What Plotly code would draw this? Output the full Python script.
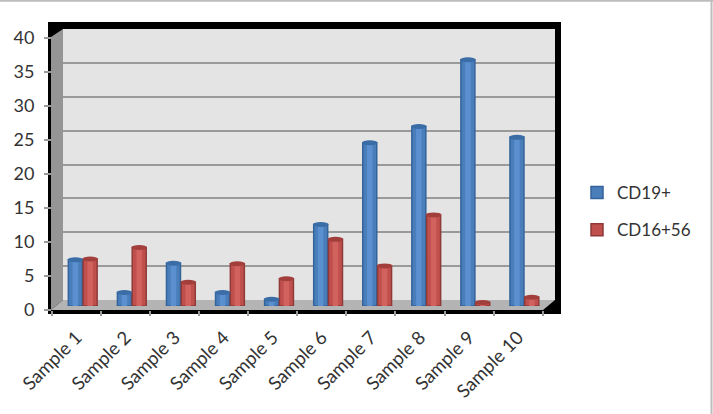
import plotly.graph_objects as go

W, H = 713, 414
samples = ["Sample 1", "Sample 2", "Sample 3", "Sample 4", "Sample 5",
           "Sample 6", "Sample 7", "Sample 8", "Sample 9", "Sample 10"]
cd19 = [6.8, 2.0, 6.3, 2.0, 1.0, 12.0, 24.0, 26.4, 36.2, 24.8]
cd16 = [6.9, 8.6, 3.5, 6.2, 4.0, 9.8, 5.9, 13.4, 0.5, 1.3]

BAND = 49.07
FONT = "Lato, Carlito, sans-serif"
TXT = "#333333"

series = [
    dict(name="CD19+", y=cd19, c=-1.2, edge="#33639b", mid="#4a7ebb", light="#5a90cf", cap="#3a6ca6"),
    dict(name="CD16+56", y=cd16, c=13.6, edge="#8f3a38", mid="#c0504d", light="#d2625e", cap="#a23f3c"),
]
BAR_W = 15.5

def px(v):
    return v / W

def py(v):
    return 1 - v / H

def poly(points, color):
    d = "M" + " L".join(f"{px(x):.5f},{py(y):.5f}" for x, y in points) + " Z"
    return dict(type="path", path=d, xref="paper", yref="paper", fillcolor=color,
                line=dict(width=0), layer="below")

shapes = [
    poly([(48, 22), (561, 22), (561, 314), (48, 314)], "#000000"),
    poly([(63, 29), (555, 29), (555, 300), (63, 300)], "#e4e4e4"),
    poly([(51, 37), (63, 29), (63, 300), (51, 310)], "#959595"),
    poly([(51, 310), (63, 300), (555, 300), (543, 310)], "#b4b4b4"),
    dict(type="line", xref="paper", yref="paper", x0=0, x1=1, y0=py(0.7), y1=py(0.7),
         line=dict(color="#bdbdbd", width=2), layer="below"),
    dict(type="line", xref="paper", yref="paper", x0=px(711.5), x1=px(711.5), y0=0, y1=1,
         line=dict(color="#bdbdbd", width=2), layer="below"),
]

fig = go.Figure()
fig.add_trace(go.Scatter(x=[0], y=[0], xaxis="x", yaxis="y", mode="markers",
                         marker=dict(opacity=0), hoverinfo="skip", showlegend=False))
fig.add_trace(go.Scatter(x=samples, y=[0] * len(samples), xaxis="x2", yaxis="y2", mode="markers",
                         marker=dict(opacity=0), hoverinfo="skip", showlegend=False))

for k, s in enumerate(series):
    half = BAR_W / 2
    fig.add_trace(go.Bar(
        x=samples, y=s["y"], xaxis="x2", yaxis="y3", name=s["name"],
        width=(BAR_W - 1.5) / BAND, offset=(s["c"] - (BAR_W - 1.5) / 2) / BAND,
        marker=dict(color=s["mid"], line=dict(width=1.5, color=s["edge"])),
        showlegend=True, legendgroup=s["name"], hoverinfo="name+y"))
    fig.add_trace(go.Bar(
        x=samples, y=s["y"], xaxis="x2", yaxis="y3", name=s["name"],
        width=5.5 / BAND, offset=(s["c"] - 2.75) / BAND,
        marker=dict(color=s["light"], line=dict(width=0)),
        showlegend=False, legendgroup=s["name"], hoverinfo="name+y"))
    for cat, v in zip(samples, s["y"]):
        shapes.append(dict(type="circle", xref="x2", yref="y3", xsizemode="pixel", ysizemode="pixel",
                           xanchor=cat, yanchor=0, x0=s["c"] - half, x1=s["c"] + half, y0=-2.5, y1=2.5,
                           fillcolor=s["edge"], line=dict(width=0), layer="between"))
        shapes.append(dict(type="circle", xref="x2", yref="y3", xsizemode="pixel", ysizemode="pixel",
                           xanchor=cat, yanchor=v, x0=s["c"] - half, x1=s["c"] + half, y0=-2.5, y1=2.5,
                           fillcolor=s["cap"], line=dict(width=0), layer="above"))

tf = dict(family=FONT, size=18, color=TXT)
xf = dict(family=FONT, size=18.5, color=TXT)
lf = dict(family=FONT, size=17, color=TXT)
fig.update_layout(
    template="none",
    width=W, height=H,
    margin=dict(l=0, r=0, t=0, b=0),
    paper_bgcolor="white", plot_bgcolor="rgba(0,0,0,0)",
    barmode="overlay",
    showlegend=True,
    shapes=shapes,
    legend=dict(x=px(577), y=py(175), xanchor="left", yanchor="top", font=lf,
                tracegroupgap=12, bgcolor="rgba(0,0,0,0)", itemwidth=30),
    xaxis=dict(domain=[px(63), px(555)], range=[0, 1], visible=False, fixedrange=True, automargin=False),
    yaxis=dict(domain=[py(300), py(29)], range=[0, 40], tick0=0, dtick=5, showgrid=True,
               gridcolor="#9a9a9a", gridwidth=2, showticklabels=False, ticks="", zeroline=False,
               showline=False, anchor="x", fixedrange=True, automargin=False),
    xaxis2=dict(domain=[px(52), px(542.7)], type="category", categoryorder="array",
                categoryarray=samples, range=[-0.5, 9.5], anchor="y2", ticks="outside",
                tickson="boundaries", ticklen=5, tickwidth=2, tickcolor="#9a9a9a",
                tickangle=-45, tickfont=xf, showgrid=False, showline=False, zeroline=False,
                ticklabelstandoff=12, fixedrange=True, automargin=False),
    yaxis2=dict(domain=[py(310), py(38)], range=[0, 40], tick0=0, dtick=5, anchor="x2",
                ticks="outside", ticklen=7, tickwidth=2, tickcolor="#9a9a9a", tickfont=tf,
                showgrid=False, showline=False, zeroline=False, ticklabelstandoff=6,
                fixedrange=True, automargin=False),
    yaxis3=dict(domain=[py(306), py(34)], range=[0, 40], anchor="x2",
                visible=False, showgrid=False, zeroline=False, fixedrange=True, automargin=False),
)
fig.write_html("out.html", config=dict(displayModeBar=False),
               post_script="document.body.style.margin='0';")
